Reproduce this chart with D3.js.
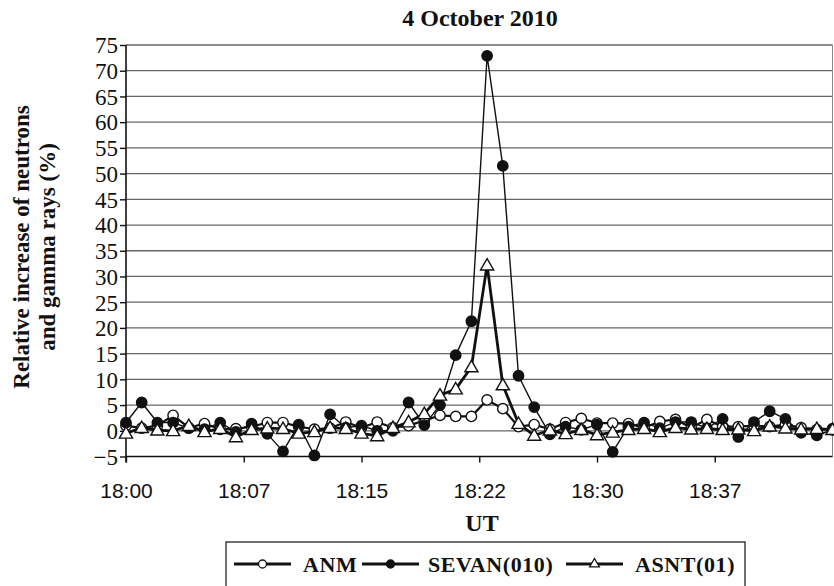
<!DOCTYPE html>
<html>
<head>
<meta charset="utf-8">
<script src="https://cdn.jsdelivr.net/npm/d3@7"></script>
<style>
  html, body { margin: 0; padding: 0; background: #fff; }
  svg { display: block; }
</style>
</head>
<body>
<svg id="chart" width="834" height="586"></svg>
<script>
// One-minute samples, 18:00 to 18:45 UT
const times = [
  "18:00","18:01","18:02","18:03","18:04","18:05","18:06","18:07","18:08","18:09",
  "18:10","18:11","18:12","18:13","18:14","18:15","18:16","18:17","18:18","18:19",
  "18:20","18:21","18:22","18:23","18:24","18:25","18:26","18:27","18:28","18:29",
  "18:30","18:31","18:32","18:33","18:34","18:35","18:36","18:37","18:38","18:39",
  "18:40","18:41","18:42","18:43","18:44","18:45"
];

// Relative increase (%) per detector
const anm = [
  1.0, 0.5, 1.0, 3.0, 0.6, 1.4, 0.3, 0.4, 0.8, 1.6,
  1.6, 0.8, 0.3, 0.5, 1.7, 0.6, 1.7, 0.6, 1.0, 2.0,
  3.0, 2.8, 2.8, 6.0, 4.3, 0.8, 1.2, 0.3, 1.6, 2.4,
  1.5, 1.5, 1.4, 0.6, 1.8, 2.2, 0.6, 2.2, 0.8, 0.8,
  1.0, 0.8, 1.2, 0.6, 0.2, 0.4
];
const sevan = [
  1.6, 5.5, 1.6, 1.6, 0.5, 0.3, 1.6, -0.2, 1.4, -0.6,
  -4.0, 1.2, -4.8, 3.2, 0.6, 1.0, 0.0, 0.0, 5.5, 1.1,
  5.0, 14.7, 21.3, 72.9, 51.5, 10.7, 4.6, -0.7, 0.8, 0.2,
  1.2, -4.1, 0.8, 1.6, 0.5, 1.7, 1.7, 0.5, 2.3, -1.2,
  1.7, 3.8, 2.3, -0.4, -0.9, 0.2
];
const asnt = [
  -0.5, 0.6, 0.1, 0.0, 1.0, -0.2, 0.4, -1.2, 0.2, 0.5,
  0.4, -0.5, -0.2, 0.6, 0.4, -0.5, -1.0, 0.6, 1.7, 3.3,
  6.9, 8.1, 12.4, 32.2, 8.9, 1.4, -0.9, 0.1, -0.6, 0.2,
  -0.8, -0.3, 0.2, 0.4, -0.2, 0.6, 0.3, 0.4, 0.2, 0.3,
  0.0, 0.9, 0.5, 0.3, 0.4, 0.2
];

const xTickMinutes = [0, 7.5, 15, 22.5, 30, 37.5];
const xTickLabels = ["18:00", "18:07", "18:15", "18:22", "18:30", "18:37"];
const yTicks = [-5, 0, 5, 10, 15, 20, 25, 30, 35, 40, 45, 50, 55, 60, 65, 70, 75];

const seriesNames = ["ANM", "SEVAN(010)", "ASNT(01)"];

const svg = d3.select("#chart");
const serif = "'Liberation Serif', 'Times New Roman', serif";
const sans = "'Liberation Sans', Arial, sans-serif";

const plot = { left: 126, right: 832.5, top: 45, bottom: 456.5 };

const x = d3.scaleLinear().domain([0, 45]).range([plot.left, plot.right]);
const y = d3.scaleLinear().domain([-5, 75]).range([plot.bottom, plot.top]);

const minuteOf = t => {
  const [h, m] = t.split(":").map(Number);
  return (h - 18) * 60 + m;
};

// Horizontal gridlines
svg.append("g")
  .selectAll("line")
  .data(yTicks.filter(v => v > -5))
  .join("line")
  .attr("x1", plot.left).attr("x2", plot.right)
  .attr("y1", d => y(d)).attr("y2", d => y(d))
  .attr("stroke", "#666")
  .attr("stroke-width", 1.3);

// Right border of the plot area
svg.append("line")
  .attr("x1", plot.right).attr("x2", plot.right)
  .attr("y1", plot.top).attr("y2", plot.bottom)
  .attr("stroke", "#8a8a8a").attr("stroke-width", 1);

// Y axis
const yAxis = svg.append("g")
  .attr("transform", `translate(${plot.left},0)`)
  .call(d3.axisLeft(y).tickValues(yTicks).tickSize(6).tickPadding(2).tickFormat(d3.format("d")));
yAxis.select(".domain").attr("stroke", "#111").attr("stroke-width", 1.6)
  .attr("d", `M0,${plot.top}V${plot.bottom + 6}`);
yAxis.selectAll(".tick line").attr("stroke", "#111").attr("stroke-width", 1.4);
yAxis.selectAll(".tick text")
  .attr("font-family", serif).attr("font-size", 23).attr("fill", "#111")
  .attr("dy", "0.34em");

// X axis
const xAxis = svg.append("g")
  .attr("transform", `translate(0,${plot.bottom})`)
  .call(d3.axisBottom(x).tickValues(xTickMinutes).tickSize(6).tickPadding(21)
    .tickFormat((d, i) => xTickLabels[i]));
xAxis.select(".domain").attr("stroke", "#111").attr("stroke-width", 1.6)
  .attr("d", `M${plot.left},0H${plot.right}`);
xAxis.selectAll(".tick line").attr("stroke", "#111").attr("stroke-width", 1.4);
xAxis.selectAll(".tick text")
  .attr("font-family", sans).attr("font-size", 21).attr("fill", "#111");

// Title and axis titles
svg.append("text")
  .attr("x", 480).attr("y", 26)
  .attr("text-anchor", "middle")
  .attr("font-family", serif).attr("font-weight", "bold").attr("font-size", 24)
  .attr("fill", "#111")
  .text("4 October 2010");

svg.append("text")
  .attr("x", 482).attr("y", 531)
  .attr("text-anchor", "middle")
  .attr("font-family", serif).attr("font-weight", "bold").attr("font-size", 24)
  .attr("fill", "#111")
  .text("UT");

const yTitle = svg.append("text")
  .attr("transform", "translate(0,247) rotate(-90)")
  .attr("text-anchor", "middle")
  .attr("font-family", serif).attr("font-weight", "bold").attr("font-size", 23)
  .attr("fill", "#111");
yTitle.append("tspan").attr("x", 0).attr("y", 29).text("Relative increase of neutrons");
yTitle.append("tspan").attr("x", 0).attr("y", 55).text("and gamma rays (%)");

// Series
const series = [
  { name: seriesNames[0], values: anm, marker: "openCircle", width: 2.2 },
  { name: seriesNames[1], values: sevan, marker: "filledCircle", width: 1.4 },
  { name: seriesNames[2], values: asnt, marker: "triangle", width: 2.8 }
];

const line = d3.line()
  .x(d => x(d.m))
  .y(d => y(d.v));

const triangleSym = d3.symbol().type(d3.symbolTriangle).size(75);

function drawMarker(g, marker) {
  if (marker === "triangle") {
    g.append("path").attr("d", triangleSym())
      .attr("transform", "translate(0,1)")
      .attr("fill", "#fff").attr("stroke", "#111").attr("stroke-width", 1.4);
  } else {
    g.append("circle").attr("r", 5.2)
      .attr("fill", marker === "filledCircle" ? "#111" : "#fff")
      .attr("stroke", "#111").attr("stroke-width", 1.4);
  }
}

series.forEach(s => {
  const pts = times.map((t, i) => ({ m: minuteOf(t), v: s.values[i] }));
  const g = svg.append("g");
  g.append("path")
    .datum(pts)
    .attr("d", line)
    .attr("fill", "none")
    .attr("stroke", "#111")
    .attr("stroke-width", s.width)
    .attr("stroke-linejoin", "round");
  g.selectAll("g.pt")
    .data(pts)
    .join("g")
    .attr("class", "pt")
    .attr("transform", d => `translate(${x(d.m)},${y(d.v)})`)
    .each(function () { drawMarker(d3.select(this), s.marker); });
});

// Legend
const legend = svg.append("g");
legend.append("rect")
  .attr("x", 226).attr("y", 542).attr("width", 519).attr("height", 60)
  .attr("fill", "#fff").attr("stroke", "#222").attr("stroke-width", 1.3);

const legendItems = [
  { lx: 234, tx: 303, s: series[0] },
  { lx: 362, tx: 428, s: series[1] },
  { lx: 566, tx: 635, s: series[2] }
];
legendItems.forEach(it => {
  const ly = 564;
  legend.append("line")
    .attr("x1", it.lx).attr("x2", it.lx + 57)
    .attr("y1", ly).attr("y2", ly)
    .attr("stroke", "#111").attr("stroke-width", 3);
  const mg = legend.append("g").attr("transform", `translate(${it.lx + 28.5},${ly})`);
  if (it.s.marker === "triangle") {
    mg.append("path").attr("d", d3.symbol().type(d3.symbolTriangle).size(40)())
      .attr("fill", "#fff").attr("stroke", "#111").attr("stroke-width", 1.3);
  } else {
    mg.append("circle").attr("r", 4)
      .attr("fill", it.s.marker === "filledCircle" ? "#111" : "#fff")
      .attr("stroke", "#111").attr("stroke-width", 1.3);
  }
  legend.append("text")
    .attr("x", it.tx).attr("y", ly + 8)
    .attr("font-family", serif).attr("font-weight", "bold").attr("font-size", 22)
    .attr("letter-spacing", 0.6)
    .attr("fill", "#111")
    .text(it.s.name);
});
</script>
</body>
</html>
